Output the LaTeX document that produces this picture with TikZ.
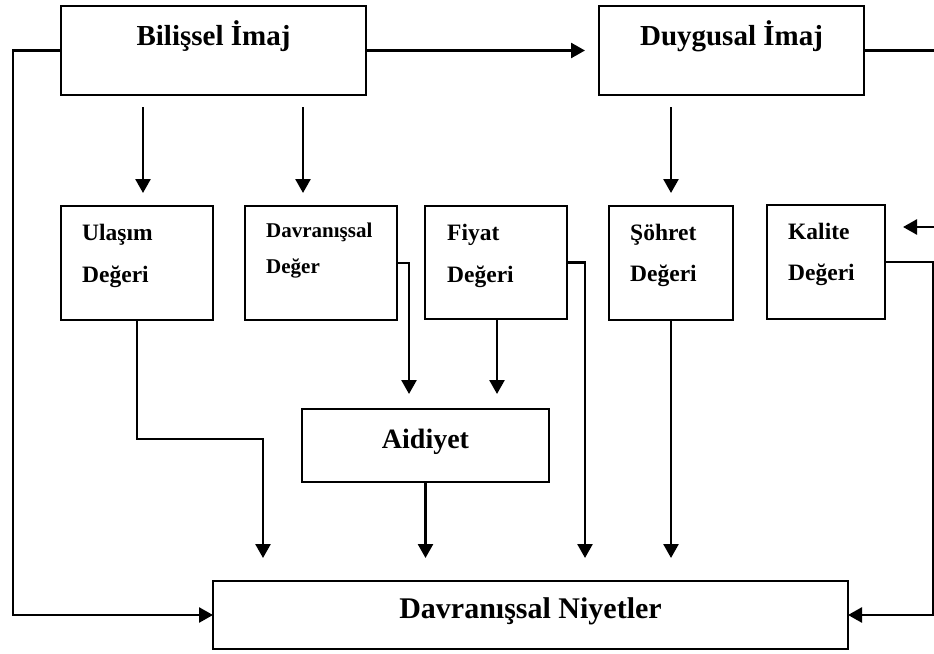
\documentclass[tikz,border=0pt]{standalone}
\usepackage{fontspec}
\setmainfont{Liberation Serif}
\usetikzlibrary{arrows.meta}
\begin{document}
\begin{tikzpicture}[x=1pt,y=-1pt,
  box/.style={draw,line width=2pt,inner sep=0pt,outer sep=0pt},
  line/.style={line width=2.6pt},
  arr/.style={line width=2.6pt,-{Triangle[length=14pt,width=15pt]}},
  lbl/.style={inner sep=0pt,font=\bfseries\fontsize{23.5}{27}\selectfont},
  small/.style={inner sep=0pt,font=\bfseries\fontsize{21}{25}\selectfont},
  title/.style={inner sep=0pt,font=\bfseries\fontsize{29}{34}\selectfont}]
\useasboundingbox (0,0) rectangle (934,653);

% boxes
\node[box,minimum width=305pt,minimum height=89pt] (bil) at (213.5,50.5) {};
\node[box,minimum width=265pt,minimum height=89pt] (duy) at (731.5,50.5) {};
\node[box,minimum width=152pt,minimum height=114pt] (ula) at (137,263) {};
\node[box,minimum width=152pt,minimum height=114pt] (dde) at (321,263) {};
\node[box,minimum width=142pt,minimum height=113pt] (fiy) at (496,262.5) {};
\node[box,minimum width=124pt,minimum height=114pt] (soh) at (671,263) {};
\node[box,minimum width=118pt,minimum height=114pt] (kal) at (826,262) {};
\node[box,minimum width=247pt,minimum height=73pt] (aid) at (425.5,445.5) {};
\node[box,minimum width=635pt,minimum height=68pt] (dn) at (530.5,615) {};

% texts
\node[title,anchor=base] (tbil) at (213.5,45) {Bilişsel İmaj};
\node[title,anchor=base] (tduy) at (731.5,45) {Duygusal İmaj};
\node[lbl,anchor=base west] (tula1) at (82,240) {Ulaşım};
\node[lbl,anchor=base west] (tula2) at (82,282) {Değeri};
\node[small,anchor=base west] (tdde1) at (266,237) {Davranışsal};
\node[small,anchor=base west] (tdde2) at (266,273) {Değer};
\node[lbl,anchor=base west] (tfiy1) at (447,240) {Fiyat};
\node[lbl,anchor=base west] (tfiy2) at (447,282) {Değeri};
\node[lbl,anchor=base west] (tsoh1) at (630,240) {Şöhret};
\node[lbl,anchor=base west] (tsoh2) at (630,281) {Değeri};
\node[lbl,anchor=base west] (tkal1) at (788,239) {Kalite};
\node[lbl,anchor=base west] (tkal2) at (788,280) {Değeri};
\node[font=\bfseries\fontsize{28}{33}\selectfont,inner sep=0pt,anchor=base] (taid) at (425.5,448) {Aidiyet};
\node[font=\bfseries\fontsize{30}{35}\selectfont,inner sep=0pt,anchor=base] (tdn) at (530.5,618) {Davranışsal Niyetler};

% free ends at the right margin
\coordinate (redgeA) at (934,50.5);
\coordinate (redgeB) at (934,227);

% connectors
\draw[arr] (bil.west) -- ++(-48,0) |- (dn.west);
\draw[arr,shorten >=14pt] (bil.east) -- (duy.west);
\draw[line] (duy.east) -- (redgeA);
\draw[arr,shorten >=18pt] (redgeB) -- (kal.east |- redgeB);

\draw[arr] ([xshift=-70.5pt,yshift=-12pt]bil.south) -- ++(0,86);
\draw[arr] ([xshift=89.5pt,yshift=-12pt]bil.south) -- ++(0,86);
\draw[arr] ([xshift=-60.5pt,yshift=-12pt]duy.south) -- ++(0,86);

\draw[arr,shorten >=23pt] (ula.south) -- ++(0,119) -| ([xshift=-267.5pt]dn.north);
\draw[arr,shorten >=15pt] (dde.east) -- ++(12,0) -| ([xshift=-16.5pt]aid.north);
\draw[arr,shorten >=15pt] ([xshift=1pt]fiy.south) -- ([xshift=1pt]fiy.south |- aid.north);
\draw[arr,shorten >=23pt] (fiy.east) -- ++(18,0) -| ([xshift=54.5pt]dn.north);
\draw[arr,shorten >=23pt] (aid.south) -- (aid.south |- dn.north);
\draw[arr,shorten >=23pt] (soh.south) -- (soh.south |- dn.north);
\draw[arr] (kal.east) -- ++(48,0) |- (dn.east);
\end{tikzpicture}
\end{document}
